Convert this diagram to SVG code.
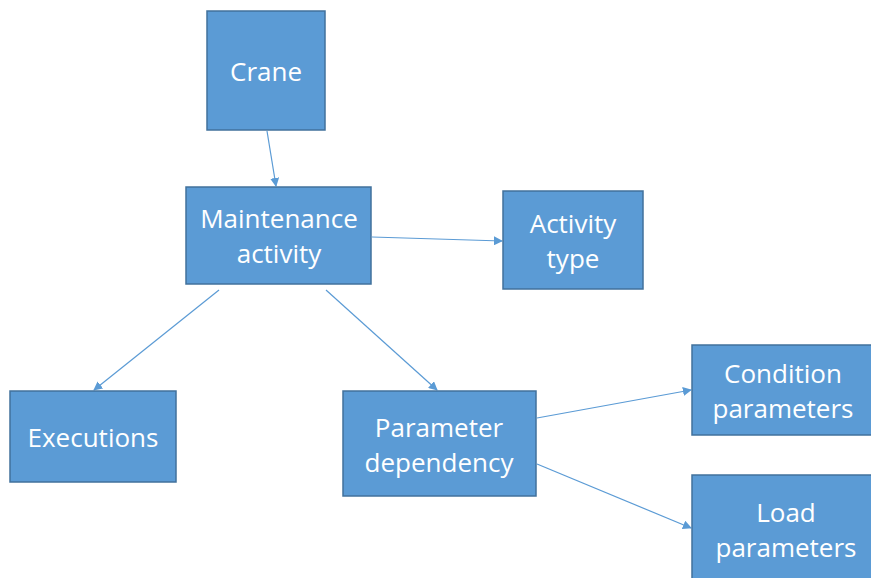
<svg xmlns="http://www.w3.org/2000/svg" width="871" height="578" viewBox="0 0 871 578">
  <style>
    .box { fill: #5b9bd5; stroke: #41719c; stroke-width: 1.5; }
    .lbl { fill: #ffffff; font-family: "Open Sans", "Liberation Sans", sans-serif; font-size: 26px; text-anchor: middle; }
    .edge { stroke: #5b9bd5; stroke-width: 1.2; fill: none; marker-end: url(#arrow); }
  </style>
  <defs>
    <marker id="arrow" viewBox="0 0 10 10" refX="9" refY="5" markerWidth="9" markerHeight="9" markerUnits="userSpaceOnUse" orient="auto">
      <path d="M0,0 L10,5 L0,10 z" fill="#5b9bd5"/>
    </marker>
  </defs>
  <rect width="871" height="578" fill="#ffffff"/>

  <g id="connectors">
    <line class="edge" x1="267" y1="131" x2="276" y2="186"/>
    <line class="edge" x1="372" y1="237" x2="502" y2="241"/>
    <line class="edge" x1="219" y1="290" x2="94" y2="390"/>
    <line class="edge" x1="326" y1="290" x2="437" y2="390"/>
    <line class="edge" x1="537" y1="418" x2="691" y2="390"/>
    <line class="edge" x1="537" y1="464" x2="691" y2="528"/>
  </g>

  <g id="crane">
    <rect class="box" x="207" y="11" width="118" height="119"/>
    <text class="lbl" x="266" y="81">Crane</text>
  </g>
  <g id="maintenance-activity">
    <rect class="box" x="186" y="187" width="185" height="97"/>
    <text class="lbl" x="279" y="228">Maintenance</text>
    <text class="lbl" x="279" y="263">activity</text>
  </g>
  <g id="activity-type">
    <rect class="box" x="503" y="191" width="140" height="98"/>
    <text class="lbl" x="573" y="233">Activity</text>
    <text class="lbl" x="573" y="268">type</text>
  </g>
  <g id="executions">
    <rect class="box" x="10" y="391" width="166" height="91"/>
    <text class="lbl" x="93" y="447">Executions</text>
  </g>
  <g id="parameter-dependency">
    <rect class="box" x="343" y="391" width="193" height="105"/>
    <text class="lbl" x="439" y="437">Parameter</text>
    <text class="lbl" x="439" y="472">dependency</text>
  </g>
  <g id="condition-parameters">
    <rect class="box" x="692" y="345" width="182" height="90"/>
    <text class="lbl" x="783" y="383">Condition</text>
    <text class="lbl" x="783" y="418">parameters</text>
  </g>
  <g id="load-parameters">
    <rect class="box" x="692" y="475" width="182" height="106"/>
    <text class="lbl" x="786" y="522">Load</text>
    <text class="lbl" x="786" y="557">parameters</text>
  </g>
</svg>
